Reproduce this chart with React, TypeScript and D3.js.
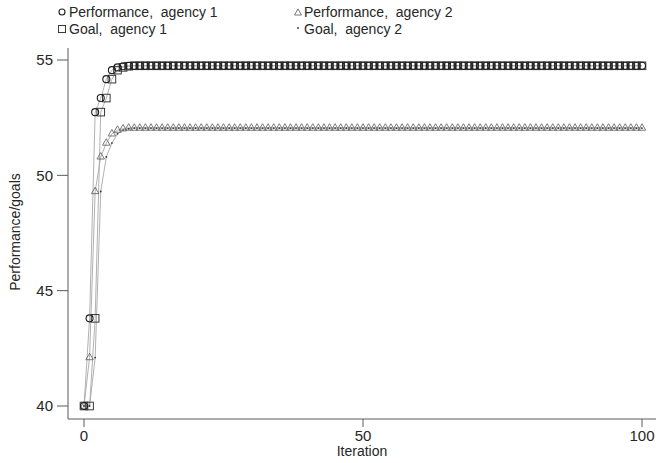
import React from "react";
import * as d3 from "d3";

const W = 656;
const H = 463;

// Iterations 0..100
const iterations: number[] = Array.from({ length: 101 }, (_, i) => i);

const performance1: number[] = [
  40, 43.8, 52.74, 53.35, 54.17, 54.56, 54.68, 54.73, 54.75, 54.75,
  54.75, 54.75, 54.75, 54.75, 54.75, 54.75, 54.75, 54.75, 54.75, 54.75,
  54.75, 54.75, 54.75, 54.75, 54.75, 54.75, 54.75, 54.75, 54.75, 54.75,
  54.75, 54.75, 54.75, 54.75, 54.75, 54.75, 54.75, 54.75, 54.75, 54.75,
  54.75, 54.75, 54.75, 54.75, 54.75, 54.75, 54.75, 54.75, 54.75, 54.75,
  54.75, 54.75, 54.75, 54.75, 54.75, 54.75, 54.75, 54.75, 54.75, 54.75,
  54.75, 54.75, 54.75, 54.75, 54.75, 54.75, 54.75, 54.75, 54.75, 54.75,
  54.75, 54.75, 54.75, 54.75, 54.75, 54.75, 54.75, 54.75, 54.75, 54.75,
  54.75, 54.75, 54.75, 54.75, 54.75, 54.75, 54.75, 54.75, 54.75, 54.75,
  54.75, 54.75, 54.75, 54.75, 54.75, 54.75, 54.75, 54.75, 54.75, 54.75,
  54.75,
];

const goal1: number[] = [
  40, 40, 43.8, 52.74, 53.35, 54.17, 54.56, 54.68, 54.73, 54.75,
  54.75, 54.75, 54.75, 54.75, 54.75, 54.75, 54.75, 54.75, 54.75, 54.75,
  54.75, 54.75, 54.75, 54.75, 54.75, 54.75, 54.75, 54.75, 54.75, 54.75,
  54.75, 54.75, 54.75, 54.75, 54.75, 54.75, 54.75, 54.75, 54.75, 54.75,
  54.75, 54.75, 54.75, 54.75, 54.75, 54.75, 54.75, 54.75, 54.75, 54.75,
  54.75, 54.75, 54.75, 54.75, 54.75, 54.75, 54.75, 54.75, 54.75, 54.75,
  54.75, 54.75, 54.75, 54.75, 54.75, 54.75, 54.75, 54.75, 54.75, 54.75,
  54.75, 54.75, 54.75, 54.75, 54.75, 54.75, 54.75, 54.75, 54.75, 54.75,
  54.75, 54.75, 54.75, 54.75, 54.75, 54.75, 54.75, 54.75, 54.75, 54.75,
  54.75, 54.75, 54.75, 54.75, 54.75, 54.75, 54.75, 54.75, 54.75, 54.75,
  54.75,
];

const performance2: number[] = [
  40, 42.1, 49.3, 50.8, 51.4, 51.8, 51.96, 52.02, 52.05, 52.05,
  52.05, 52.05, 52.05, 52.05, 52.05, 52.05, 52.05, 52.05, 52.05, 52.05,
  52.05, 52.05, 52.05, 52.05, 52.05, 52.05, 52.05, 52.05, 52.05, 52.05,
  52.05, 52.05, 52.05, 52.05, 52.05, 52.05, 52.05, 52.05, 52.05, 52.05,
  52.05, 52.05, 52.05, 52.05, 52.05, 52.05, 52.05, 52.05, 52.05, 52.05,
  52.05, 52.05, 52.05, 52.05, 52.05, 52.05, 52.05, 52.05, 52.05, 52.05,
  52.05, 52.05, 52.05, 52.05, 52.05, 52.05, 52.05, 52.05, 52.05, 52.05,
  52.05, 52.05, 52.05, 52.05, 52.05, 52.05, 52.05, 52.05, 52.05, 52.05,
  52.05, 52.05, 52.05, 52.05, 52.05, 52.05, 52.05, 52.05, 52.05, 52.05,
  52.05, 52.05, 52.05, 52.05, 52.05, 52.05, 52.05, 52.05, 52.05, 52.05,
  52.05,
];

const goal2: number[] = [
  40, 40, 42.1, 49.3, 50.8, 51.4, 51.8, 51.96, 52.02, 52.05,
  52.05, 52.05, 52.05, 52.05, 52.05, 52.05, 52.05, 52.05, 52.05, 52.05,
  52.05, 52.05, 52.05, 52.05, 52.05, 52.05, 52.05, 52.05, 52.05, 52.05,
  52.05, 52.05, 52.05, 52.05, 52.05, 52.05, 52.05, 52.05, 52.05, 52.05,
  52.05, 52.05, 52.05, 52.05, 52.05, 52.05, 52.05, 52.05, 52.05, 52.05,
  52.05, 52.05, 52.05, 52.05, 52.05, 52.05, 52.05, 52.05, 52.05, 52.05,
  52.05, 52.05, 52.05, 52.05, 52.05, 52.05, 52.05, 52.05, 52.05, 52.05,
  52.05, 52.05, 52.05, 52.05, 52.05, 52.05, 52.05, 52.05, 52.05, 52.05,
  52.05, 52.05, 52.05, 52.05, 52.05, 52.05, 52.05, 52.05, 52.05, 52.05,
  52.05, 52.05, 52.05, 52.05, 52.05, 52.05, 52.05, 52.05, 52.05, 52.05,
  52.05,
];

const xTicks: number[] = [0, 50, 100];
const yTicks: number[] = [40, 45, 50, 55];

const legendLabels: string[] = [
  "Performance,  agency 1",
  "Performance,  agency 2",
  "Goal,  agency 1",
  "Goal,  agency 2",
];

const FONT = "'Liberation Sans', Arial, sans-serif";
const LINE = "#a8a8a8";
const AXIS = "#5a5a5a";
const TEXT = "#262626";

const x = d3.scaleLinear().domain([0, 100]).range([84, 642]);
const y = d3.scaleLinear().domain([40, 55]).range([406, 60]);

const line = d3
  .line<number>()
  .x((_, i) => x(iterations[i]))
  .y((d) => y(d));

const triPath = (cx: number, cy: number, s: number) => {
  const h = (s * Math.sqrt(3)) / 2;
  return `M${cx},${cy - (2 * h) / 3}L${cx + s / 2},${cy + h / 3}L${cx - s / 2},${cy + h / 3}Z`;
};

const preText: React.CSSProperties = { whiteSpace: "pre" };

export default function App() {
  const axisLeftX = 68;
  const axisBottomY = 419;
  return (
    <svg
      width={W}
      height={H}
      style={{ position: "absolute", left: 0, top: 0, background: "#fff" }}
      fontFamily={FONT}
    >
      <rect width={W} height={H} fill="#fff" />

      {/* connecting lines */}
      {[performance1, goal1, performance2, goal2].map((s, k) => (
        <path key={k} d={line(s) ?? ""} fill="none" stroke={LINE} strokeWidth={0.9} />
      ))}

      {/* markers: goal, agency 2 (dots) */}
      {goal2.map((v, i) => (
        <circle key={`g2${i}`} cx={x(iterations[i])} cy={y(v)} r={0.9} fill="#333" />
      ))}
      {/* markers: performance, agency 2 (triangles) */}
      {performance2.map((v, i) => (
        <path
          key={`p2${i}`}
          d={triPath(x(iterations[i]), y(v), 7.5)}
          fill="none"
          stroke="#6a6a6a"
          strokeWidth={0.9}
        />
      ))}
      {/* markers: goal, agency 1 (squares) */}
      {goal1.map((v, i) => (
        <rect
          key={`g1${i}`}
          x={x(iterations[i]) - 3.8}
          y={y(v) - 3.8}
          width={7.6}
          height={7.6}
          fill="none"
          stroke="#3a3a3a"
          strokeWidth={1}
        />
      ))}
      {/* markers: performance, agency 1 (circles) */}
      {performance1.map((v, i) => (
        <circle
          key={`p1${i}`}
          cx={x(iterations[i])}
          cy={y(v)}
          r={3.5}
          fill="none"
          stroke="#1e1e1e"
          strokeWidth={1.1}
        />
      ))}

      {/* y axis */}
      <line x1={axisLeftX} x2={axisLeftX} y1={48} y2={axisBottomY} stroke={AXIS} strokeWidth={1} />
      {yTicks.map((t) => (
        <g key={`yt${t}`}>
          <line x1={57} x2={axisLeftX} y1={y(t)} y2={y(t)} stroke={AXIS} strokeWidth={1} />
          <text x={53} y={y(t)} dy="0.35em" textAnchor="end" fontSize={15} fill={TEXT}>
            {t}
          </text>
        </g>
      ))}
      <text
        transform={`translate(20,232) rotate(-90)`}
        textAnchor="middle"
        fontSize={14}
        fill={TEXT}
      >
        Performance/goals
      </text>

      {/* x axis */}
      <line x1={axisLeftX} x2={W} y1={axisBottomY} y2={axisBottomY} stroke={AXIS} strokeWidth={1} />
      {xTicks.map((t) => (
        <g key={`xt${t}`}>
          <line x1={x(t)} x2={x(t)} y1={axisBottomY} y2={427} stroke={AXIS} strokeWidth={1} />
          <text x={x(t)} y={441} textAnchor="middle" fontSize={15} fill={TEXT}>
            {t}
          </text>
        </g>
      ))}
      <text x={362} y={456} textAnchor="middle" fontSize={14} fill={TEXT}>
        Iteration
      </text>

      {/* legend */}
      <g fontSize={14} fill={TEXT}>
        <circle cx={62} cy={12} r={3} fill="none" stroke="#1e1e1e" strokeWidth={1.1} />
        <text x={69} y={17} style={preText} xmlSpace="preserve">{legendLabels[0]}</text>
        <path d={triPath(298, 13, 7)} fill="none" stroke="#6a6a6a" strokeWidth={0.9} />
        <text x={304} y={17} style={preText} xmlSpace="preserve">{legendLabels[1]}</text>
        <rect x={58.5} y={25.5} width={7} height={7} fill="none" stroke="#3a3a3a" strokeWidth={1} />
        <text x={69} y={34} style={preText} xmlSpace="preserve">{legendLabels[2]}</text>
        <circle cx={298} cy={28} r={0.9} fill="#333" />
        <text x={304} y={34} style={preText} xmlSpace="preserve">{legendLabels[3]}</text>
      </g>
    </svg>
  );
}
